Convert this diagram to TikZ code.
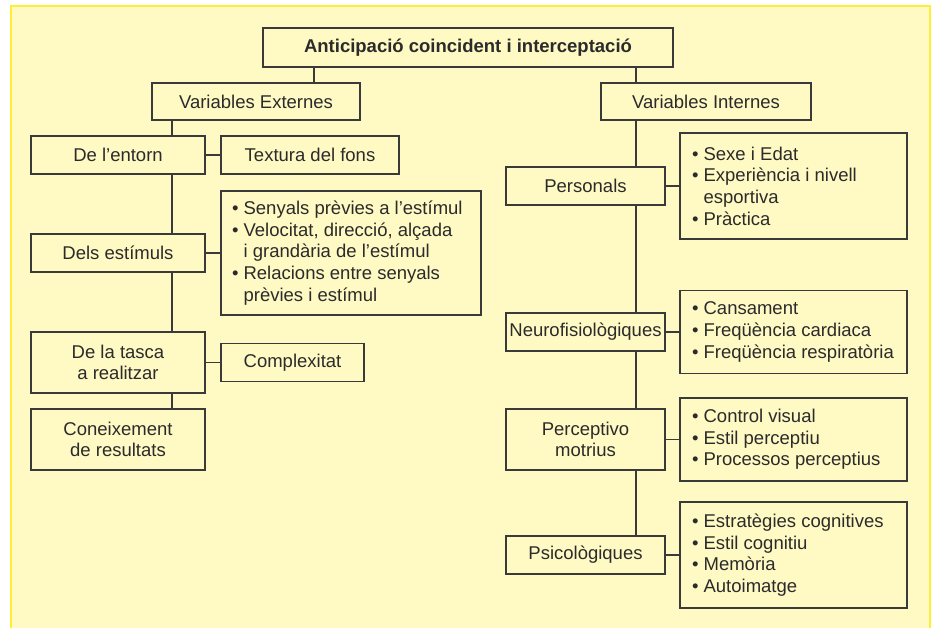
\documentclass[tikz,border=0pt]{standalone}
\usepackage{fontspec}
\setmainfont{Liberation Sans}
\usetikzlibrary{positioning}
\definecolor{paper}{HTML}{FFF9C4}
\definecolor{frameyellow}{HTML}{FFEE33}
\definecolor{ink}{HTML}{2B2B2B}
\definecolor{edge}{HTML}{3A3A3A}
\hyphenpenalty=10000
\tikzstyle{link} = [draw=edge, line width=1.1pt]
\tikzset{
    block/.style = {draw=edge, line width=1.1pt, fill=paper, rectangle, inner sep=0pt, outer sep=0pt, align=center, text=ink},
    listblock/.style = {block, align=flush left, inner xsep=11pt},
}
\newcommand{\blt}{\textbullet\ }
\newcommand{\hng}{\hphantom{\textbullet\ }}

\begin{document}
\begin{tikzpicture}[x=1pt, y=-1pt, font=\fontsize{18.5}{21.7}\selectfont]
    \useasboundingbox (0,0) rectangle (932,628);
    \fill [white] (0,0) rectangle (932,628);
    \fill [paper] (11,6) rectangle (930,628);
    \draw [frameyellow, line width=2pt] (11,628) -- (11,6) -- (930,6) -- (930,628);

    \node [block, minimum width=410pt, minimum height=39pt] (title) at (468,47.5) {\textbf{Anticipació coincident i interceptació}};
    \node [block, minimum width=208pt, minimum height=37pt] (varext) at (256,101.5) {Variables Externes};
    \node [block, minimum width=210pt, minimum height=37pt] (varint) at (706,101.5) {Variables Internes};

    \node [block, minimum width=174pt, minimum height=38pt] (entorn) at (118,155) {De l’entorn};
    \node [block, minimum width=174pt, minimum height=38pt] (dels) at (118,253) {Dels estímuls};
    \node [block, minimum width=174pt, minimum height=61pt] (tasca) at (118,362.5) {De la tasca\\a realitzar};
    \node [block, minimum width=174pt, minimum height=61pt] (coneix) at (118,439.5) {Coneixement\\de resultats};

    \node [block, minimum width=178pt, minimum height=38pt, right=16pt of entorn] (textura) {Textura del fons};
    \node [listblock, text width=238pt, minimum height=124pt, right=16pt of dels] (senyals) {\blt Senyals prèvies a l’estímul\\\blt Velocitat, direcció, alçada\\\hng i grandària de l’estímul\\\blt Relacions entre senyals\\\hng prèvies i estímul};
    \node [block, minimum width=143pt, minimum height=38pt, right=16pt of tasca] (complexitat) {Complexitat};

    \node [block, minimum width=159pt, minimum height=38pt] (personals) at (585.5,186) {Personals};
    \node [block, minimum width=159pt, minimum height=38pt] (neuro) at (585.5,332) {Neurofisiològiques};
    \node [block, minimum width=159pt, minimum height=61pt] (perceptivo) at (585.5,439.5) {Perceptivo\\motrius};
    \node [block, minimum width=159pt, minimum height=38pt] (psico) at (585.5,555) {Psicològiques};

    \node [listblock, inner xsep=12pt, text width=203pt, minimum height=106pt, right=15pt of personals] (sexe) {\blt Sexe i Edat\\\blt Experiència i nivell\\\hng esportiva\\\blt Pràctica};
    \node [listblock, inner xsep=12pt, text width=203pt, minimum height=83pt, right=15pt of neuro] (cansament) {\blt Cansament\\\blt Freqüència cardiaca\\\blt Freqüència respiratòria};
    \node [listblock, inner xsep=12pt, text width=203pt, minimum height=83pt, right=15pt of perceptivo] (control) {\blt Control visual\\\blt Estil perceptiu\\\blt Processos perceptius};
    \node [listblock, inner xsep=12pt, text width=203pt, minimum height=106pt, right=15pt of psico] (estrat) {\blt Estratègies cognitives\\\blt Estil cognitiu\\\blt Memòria\\\blt Autoimatge};

    \coordinate (lfork) at (314,0);
    \coordinate (lspine) at (172,0);
    \coordinate (rspine) at (636,0);

    \draw [link] (title.south -| lfork) -- (varext.north -| lfork);
    \draw [link] (title.south -| rspine) -- (varint.north -| rspine);
    \foreach \a/\b in {varext/entorn, entorn/dels, dels/tasca, tasca/coneix}
        \draw [link] (\a.south -| lspine) -- (\b.north -| lspine);
    \foreach \a/\b in {varint/personals, personals/neuro, neuro/perceptivo, perceptivo/psico}
        \draw [link] (\a.south -| rspine) -- (\b.north -| rspine);
    \foreach \a/\b in {entorn/textura, dels/senyals, tasca/complexitat, personals/sexe, neuro/cansament, perceptivo/control, psico/estrat}
        \draw [link] (\a) -- (\b);
\end{tikzpicture}
\end{document}
